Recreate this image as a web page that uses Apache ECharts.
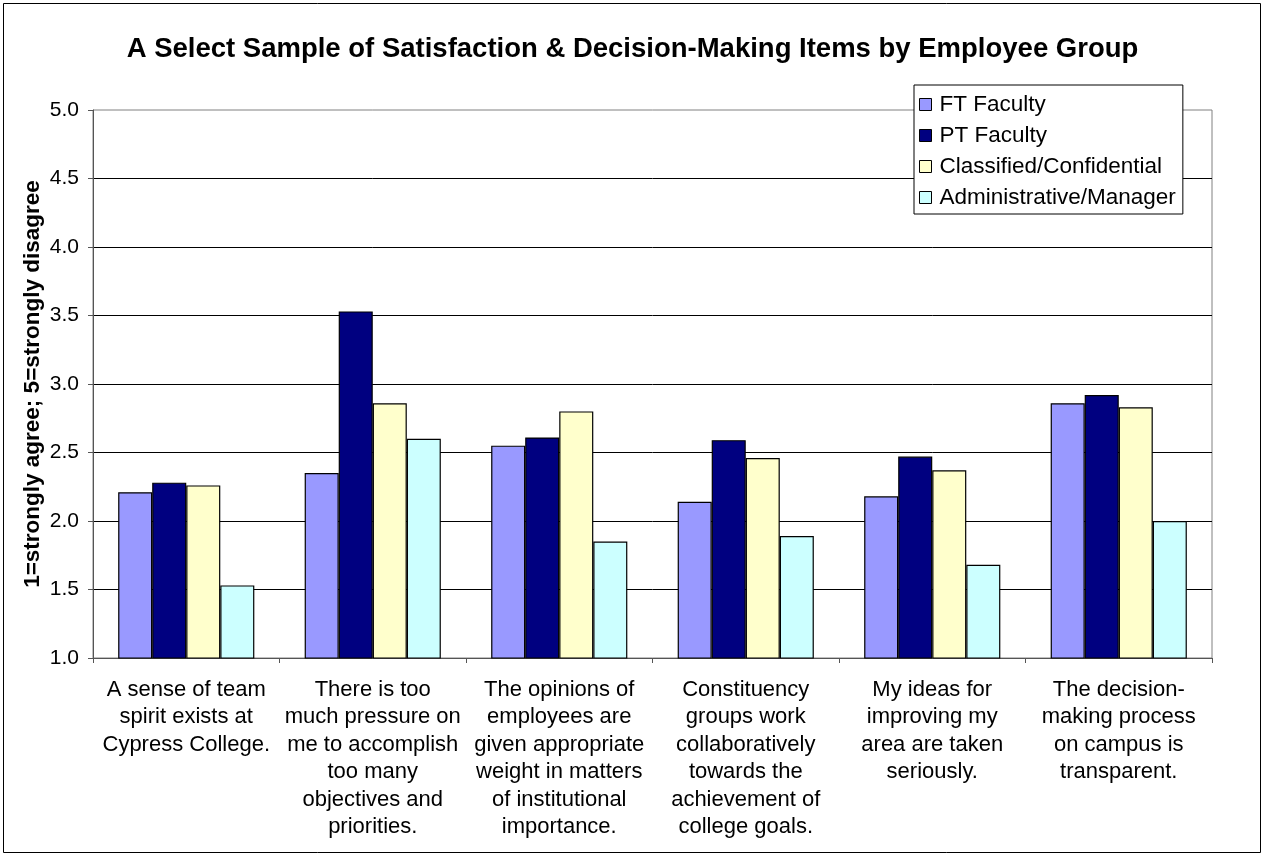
<!DOCTYPE html>
<html>
<head>
<meta charset="utf-8">
<script src="https://cdn.jsdelivr.net/npm/echarts@6/dist/echarts.min.js"></script>
<style>
html,body{margin:0;padding:0;background:#fff;}
#chart{width:1265px;height:859px;}
</style>
</head>
<body>
<div id="chart"></div>
<script>
const categories = [
  "A sense of team\nspirit exists at\nCypress College.",
  "There is too\nmuch pressure on\nme to accomplish\ntoo many\nobjectives and\npriorities.",
  "The opinions of\nemployees are\ngiven appropriate\nweight in matters\nof institutional\nimportance.",
  "Constituency\ngroups work\ncollaboratively\ntowards the\nachievement of\ncollege goals.",
  "My ideas for\nimproving my\narea are taken\nseriously.",
  "The decision-\nmaking process\non campus is\ntransparent."
];
const seriesNames = ["FT Faculty", "PT Faculty", "Classified/Confidential", "Administrative/Manager"];
const ftFaculty = [2.21, 2.35, 2.55, 2.14, 2.18, 2.86];
const ptFaculty = [2.28, 3.53, 2.61, 2.59, 2.47, 2.92];
const classified = [2.26, 2.86, 2.80, 2.46, 2.37, 2.83];
const adminManager = [1.53, 2.60, 1.85, 1.89, 1.68, 2.00];
const yTicks = [1.0, 1.5, 2.0, 2.5, 3.0, 3.5, 4.0, 4.5, 5.0];

const colors = ["#9999FF", "#000080", "#FFFFCC", "#CCFFFF"];
const dataSets = [ftFaculty, ptFaculty, classified, adminManager];
const FONT = "Arial, 'Liberation Sans', sans-serif";

const chart = echarts.init(document.getElementById('chart'));
chart.setOption({
  animation: false,
  backgroundColor: '#fff',
  textStyle: { fontFamily: FONT, color: '#000' },
  title: {
    text: 'A Select Sample of Satisfaction & Decision-Making Items by Employee Group',
    left: 'center',
    top: 31,
    textStyle: { fontFamily: FONT, fontSize: 27.5, fontWeight: 'bold', color: '#000', lineHeight: 27 }
  },
  graphic: [{
    type: 'rect',
    shape: { x: 3.5, y: 3.5, width: 1257, height: 849 },
    style: { fill: 'none', stroke: '#000', lineWidth: 1 },
    silent: true,
    z: -1
  }],
  legend: {
    orient: 'vertical',
    left: 914,
    top: 85,
    padding: [8, 7, 5, 5],
    itemWidth: 18,
    itemHeight: 12,
    itemGap: 8,
    icon: 'path://M0,0 L10,0 L10,10 L0,10 Z',
    symbolKeepAspect: true,
    backgroundColor: '#fff',
    borderColor: '#000',
    borderWidth: 1,
    itemStyle: { borderColor: '#000', borderWidth: 1 },
    textStyle: { fontFamily: FONT, fontSize: 22.5, color: '#000', lineHeight: 23 },
    data: seriesNames
  },
  grid: {
    left: 93, right: 53, top: 110, bottom: 201,
    show: true, borderColor: '#808080', borderWidth: 1, backgroundColor: '#fff'
  },
  xAxis: {
    type: 'category',
    data: categories,
    axisLine: { lineStyle: { color: '#555', width: 1 } },
    axisTick: { show: true, length: 5, lineStyle: { color: '#555' } },
    axisLabel: {
      interval: 0, margin: 18, fontFamily: FONT, fontSize: 22, lineHeight: 27.5, color: '#000', align: 'center'
    }
  },
  yAxis: {
    type: 'value',
    min: yTicks[0],
    max: yTicks[yTicks.length - 1],
    interval: 0.5,
    name: '1=strongly agree; 5=strongly disagree',
    nameLocation: 'middle',
    nameGap: 49,
    nameMoveOverlap: false,
    nameRotate: 90,
    nameTextStyle: { fontFamily: FONT, fontSize: 22.5, fontWeight: 'bold', color: '#000' },
    axisLine: { show: true, lineStyle: { color: '#555', width: 1 } },
    axisTick: { show: true, length: 5, lineStyle: { color: '#555' } },
    axisLabel: {
      margin: 14, fontFamily: FONT, fontSize: 21, color: '#000',
      formatter: v => v.toFixed(1)
    },
    splitLine: { show: true, showMaxLine: false, showMinLine: false, lineStyle: { color: '#000', width: 1 } }
  },
  series: seriesNames.map((name, i) => ({
    name: name,
    type: 'bar',
    data: dataSets[i],
    barGap: '0%',
    barCategoryGap: '27%',
    itemStyle: { color: colors[i], borderColor: '#000', borderWidth: 1.2 }
  }))
});
</script>
</body>
</html>
